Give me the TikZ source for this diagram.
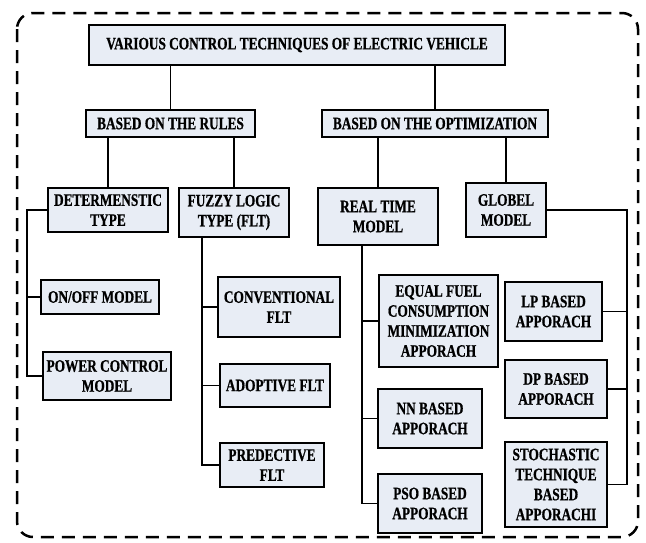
\documentclass[tikz,border=0pt]{standalone}
\usepackage{fontspec}
\setmainfont{Liberation Serif}[FakeStretch=0.76, BoldFeatures={FakeBold=0.8}]
\usepackage{tikz}
\usepackage{xcolor}
\usetikzlibrary{positioning}
\definecolor{boxfill}{RGB}{232,237,245}

\begin{document}
\begin{tikzpicture}[x=1pt, y=-1pt,
    box/.style={draw, line width=2pt, fill=boxfill, inner sep=0pt, align=center,
        font=\fontsize{17.5}{20}\selectfont\bfseries},
    link/.style={line width=1.7pt}]
        \useasboundingbox (0,0) rectangle (646,542);

        % Outer frame
        \draw [line width=2.5pt, dash pattern=on 13pt off 8pt, rounded corners=16pt] (17,13) rectangle (638,537);

        % Top level
        \node [box, minimum width=416pt, minimum height=40pt] (title) at (297,45) {VARIOUS CONTROL TECHNIQUES OF ELECTRIC VEHICLE};

        % Two families
        \node [box, minimum width=169pt, minimum height=27pt] (rules) at (170.5,123.5) {BASED ON THE RULES};
        \node [box, minimum width=226pt, minimum height=27pt] (opt) at (435,123.5) {BASED ON THE OPTIMIZATION};

        % Rule based types
        \node [box, minimum width=120pt, minimum height=44pt] (determ) at (108,210) {DETERMENSTIC\\TYPE};
        \node [box, minimum width=110pt, minimum height=49pt] (fuzzy) at (234,212.5) {FUZZY LOGIC\\TYPE (FLT)};

        % Optimization based models
        \node [box, minimum width=120pt, minimum height=57pt] (realtime) at (378,216.5) {REAL TIME\\MODEL};
        \node [box, minimum width=80pt, minimum height=54pt] (global) at (506,210) {GLOBEL\\MODEL};

        % Deterministic branch
        \node [box, minimum width=118pt, minimum height=34pt] (onoff) at (100,297) {ON/OFF MODEL};
        \node [box, minimum width=128pt, minimum height=48pt] (power) at (107,376) {POWER CONTROL\\MODEL};

        % Fuzzy branch
        \node [box, minimum width=122pt, minimum height=60pt] (conv) at (279,307) {CONVENTIONAL\\FLT};
        \node [box, minimum width=110pt, minimum height=43pt] (adopt) at (275,385.5) {ADOPTIVE FLT};
        \node [box, minimum width=104pt, minimum height=44pt] (pred) at (272,465) {PREDECTIVE\\FLT};

        % Real time branch
        \node [box, minimum width=119pt, minimum height=92pt] (equal) at (438.5,321) {EQUAL FUEL\\CONSUMPTION\\MINIMIZATION\\APPORACH};
        \node [box, minimum width=104pt, minimum height=59pt] (nn) at (430,418.5) {NN BASED\\APPORACH};
        \node [box, minimum width=104pt, minimum height=59pt] (pso) at (430,503.5) {PSO BASED\\APPORACH};

        % Global branch
        \node [box, minimum width=97pt, minimum height=59pt] (lp) at (553.5,311.5) {LP BASED\\APPORACH};
        \node [box, minimum width=102pt, minimum height=58pt] (dp) at (556,389) {DP BASED\\APPORACH};
        \node [box, minimum width=102pt, minimum height=85pt] (stoch) at (556,484.5) {STOCHASTIC\\TECHNIQUE\\BASED\\APPORACHI};

        % Tree links
        \draw [link] (rules.north) -- (rules.north |- title.south);
        \draw [link] (opt.north) -- (opt.north |- title.south);
        \draw [link] (determ.north) -- (determ.north |- rules.south);
        \draw [link] (fuzzy.north) -- (fuzzy.north |- rules.south);
        \draw [link] (realtime.north) -- (realtime.north |- opt.south);
        \draw [link] (global.north) -- (global.north |- opt.south);

        % Buses
        \coordinate (dbus) at (27,210);
        \coordinate (fbus) at (202,0);
        \coordinate (rbus) at (362,0);
        \coordinate (gbus) at (627,0);

        \draw [link] (determ.west) -- (dbus) |- (power.west);
        \draw [link] (dbus |- onoff.west) -- (onoff.west);

        \draw [link] (fbus |- fuzzy.south) |- (pred.west);
        \draw [link] (fbus |- conv.west) -- (conv.west);
        \draw [link] (fbus |- adopt.west) -- (adopt.west);

        \draw [link] (rbus |- realtime.south) |- (pso.west);
        \draw [link] (rbus |- equal.west) -- (equal.west);
        \draw [link] (rbus |- nn.west) -- (nn.west);

        \draw [link] (global.east) -| (gbus |- stoch.east) -- (stoch.east);
        \draw [link] (lp.east) -- (lp.east -| gbus);
        \draw [link] (dp.east) -- (dp.east -| gbus);
    \end{tikzpicture}
\end{document}
